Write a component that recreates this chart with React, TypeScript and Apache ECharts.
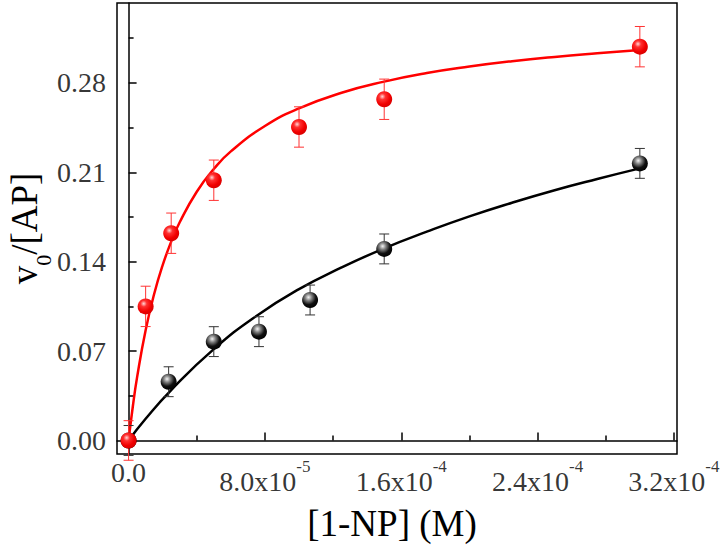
import React, { useEffect, useRef } from "react";
import * as echarts from "echarts";

// ---- data ----
const redX = [0, 1e-5, 2.5e-5, 5e-5, 1e-4, 1.5e-4, 3e-4];
const redY = [0, 0.105, 0.1623, 0.2038, 0.2455, 0.2672, 0.3084];
const redErr = [0.0155, 0.0158, 0.0158, 0.0158, 0.0158, 0.0158, 0.0158];

const blackX = [0, 2.35e-5, 5e-5, 7.65e-5, 1.065e-4, 1.5e-4, 3e-4];
const blackY = [0, 0.046, 0.0774, 0.0852, 0.11, 0.15, 0.217];
const blackErr = [0.0117, 0.0117, 0.0117, 0.0117, 0.0117, 0.0117, 0.0117];

// fitted curves
const redFitX = [0, 2.5e-6, 5e-6, 1e-5, 1.5e-5, 2e-5, 2.5e-5, 3e-5, 4e-5, 5e-5, 6e-5, 8e-5, 1e-4, 1.25e-4, 1.5e-4, 1.75e-4, 2e-4, 2.25e-4, 2.5e-4, 2.75e-4, 3e-4];
const redFitY = [0, 0.0268, 0.0496, 0.0863, 0.1147, 0.1373, 0.1557, 0.1709, 0.1948, 0.2126, 0.2264, 0.2463, 0.2601, 0.2723, 0.281, 0.2877, 0.2928, 0.297, 0.3004, 0.3032, 0.3057];

const blackFitX = [0, 1e-5, 2.5e-5, 5e-5, 7.5e-5, 1e-4, 1.25e-4, 1.5e-4, 1.75e-4, 2e-4, 2.25e-4, 2.5e-4, 2.75e-4, 3e-4];
const blackFitY = [0, 0.017, 0.0395, 0.0715, 0.0975, 0.1185, 0.1355, 0.1505, 0.1635, 0.1755, 0.1862, 0.196, 0.2048, 0.2131];

// axis ticks and labels
const xTicks = [0, 8e-5, 1.6e-4, 2.4e-4, 3.2e-4];
const xMinorTicks = [4e-5, 1.2e-4, 2e-4, 2.8e-4];
const xTickMant = ["0.0", "8.0x10", "1.6x10", "2.4x10", "3.2x10"];
const xTickExp = ["", "-5", "-4", "-4", "-4"];

const yTicks = [0, 0.07, 0.14, 0.21, 0.28];
const yMinorTicks = [0.035, 0.105, 0.175, 0.245, 0.315];
const yTickLabels = ["0.00", "0.07", "0.14", "0.21", "0.28"];

const xName = "[1-NP] (M)";
const yNameMain = "v";
const yNameSub = "0";
const yNameRest = "/[AP]";

const FONT = "Liberation Serif";

const X_MIN = -6.8e-6;
const X_MAX = 3.218e-4;
const Y_MIN = -0.0106;
const Y_MAX = 0.3426;

function zip(a: number[], b: number[]) {
  return a.map((v, i) => [v, b[i]]);
}
function zip3(a: number[], b: number[], c: number[]) {
  return a.map((v, i) => [v, b[i], c[i]]);
}

export default function App() {
  const ref = useRef<HTMLDivElement>(null);

  useEffect(() => {
    const chart = echarts.init(ref.current as HTMLDivElement, null, { renderer: "svg" });

    const errRender = (color: string) => (params: any, api: any) => {
      const x = api.value(0);
      const y = api.value(1);
      const e = api.value(2);
      const top = api.coord([x, y + e]);
      const bot = api.coord([x, y - e]);
      const hw = 5;
      const style = { stroke: color, lineWidth: 1, fill: null };
      return {
        type: "group",
        children: [
          { type: "line", shape: { x1: top[0], y1: top[1], x2: bot[0], y2: bot[1] }, style },
          { type: "line", shape: { x1: top[0] - hw, y1: top[1], x2: top[0] + hw, y2: top[1] }, style },
          { type: "line", shape: { x1: bot[0] - hw, y1: bot[1], x2: bot[0] + hw, y2: bot[1] }, style },
        ],
      };
    };

    const redBall = new echarts.graphic.RadialGradient(0.38, 0.33, 0.7, [
      { offset: 0, color: "#ffd6d6" },
      { offset: 0.28, color: "#ff3030" },
      { offset: 0.7, color: "#f00000" },
      { offset: 1, color: "#d80000" },
    ]);
    const blackBall = new echarts.graphic.RadialGradient(0.4, 0.33, 0.7, [
      { offset: 0, color: "#f4f4f4" },
      { offset: 0.3, color: "#808080" },
      { offset: 0.65, color: "#101010" },
      { offset: 1, color: "#000000" },
    ]);

    const tickAxisBase = {
      type: "value",
      splitLine: { show: false },
      axisLabel: { show: false },
    };

    const option: any = {
      animation: false,
      backgroundColor: "#ffffff",
      textStyle: { fontFamily: FONT, color: "#000" },
      grid: {
        left: 117,
        top: 3,
        right: 47,
        bottom: 91,
        show: true,
        borderColor: "#000",
        borderWidth: 1.5,
        backgroundColor: "transparent",
        containLabel: false,
        outerBoundsMode: "none",
      },
      xAxis: [
        {
          ...tickAxisBase,
          position: "bottom",
          min: X_MIN,
          max: X_MAX,
          axisLine: { show: true, lineStyle: { color: "#000", width: 1.5 } },
          axisTick: {
            show: true,
            inside: true,
            length: 8,
            customValues: xTicks,
            lineStyle: { color: "#000", width: 1.5 },
          },
          name: xName,
          nameLocation: "middle",
          nameGap: 51,
          nameTextStyle: { fontFamily: FONT, fontSize: 37, color: "#000", padding: [0, 10, 0, 0] },
        },
        {
          ...tickAxisBase,
          position: "bottom",
          min: X_MIN,
          max: X_MAX,
          axisLine: { show: false },
          axisTick: {
            show: true,
            inside: true,
            length: 5,
            customValues: xMinorTicks,
            lineStyle: { color: "#000", width: 1.5 },
          },
        },
      ],
      yAxis: [
        {
          ...tickAxisBase,
          position: "left",
          min: Y_MIN,
          max: Y_MAX,
          axisLine: { show: true, lineStyle: { color: "#000", width: 1.5 } },
          axisTick: {
            show: true,
            inside: true,
            length: 8,
            customValues: yTicks,
            lineStyle: { color: "#000", width: 1.5 },
          },
          name: `{v|${yNameMain}}{s|${yNameSub}}{t|${yNameRest}}`,
          nameLocation: "middle",
          nameRotate: 90,
          nameGap: 63,
          nameTextStyle: {
            fontFamily: FONT,
            fontSize: 37,
            color: "#000",
            rich: {
              v: { fontFamily: FONT, fontSize: 37, color: "#000", lineHeight: 37, verticalAlign: "top" },
              t: { fontFamily: FONT, fontSize: 37, color: "#000", lineHeight: 37, verticalAlign: "top" },
              s: { fontFamily: FONT, fontSize: 22, color: "#000", lineHeight: 48, verticalAlign: "bottom" },
            },
          },
        },
        {
          ...tickAxisBase,
          position: "left",
          min: Y_MIN,
          max: Y_MAX,
          axisLine: { show: false },
          axisTick: {
            show: true,
            inside: true,
            length: 5,
            customValues: yMinorTicks,
            lineStyle: { color: "#000", width: 1.5 },
          },
        },
      ],
      series: [
        {
          type: "line",
          name: "black fit",
          data: zip(blackFitX, blackFitY),
          smooth: true,
          showSymbol: false,
          symbol: "none",
          lineStyle: { color: "#000", width: 2.5 },
          z: 2,
        },
        {
          type: "line",
          name: "red fit",
          data: zip(redFitX, redFitY),
          smooth: true,
          showSymbol: false,
          symbol: "none",
          lineStyle: { color: "#ff0000", width: 2.5 },
          z: 2,
        },
        {
          type: "custom",
          name: "black err",
          renderItem: errRender("#333333"),
          data: zip3(blackX, blackY, blackErr),
          encode: { x: 0, y: 1 },
          z: 3,
        },
        {
          type: "custom",
          name: "red err",
          renderItem: errRender("#ff3333"),
          data: zip3(redX, redY, redErr),
          encode: { x: 0, y: 1 },
          z: 3,
        },
        {
          type: "scatter",
          name: "black",
          data: zip(blackX, blackY),
          symbol: "circle",
          symbolSize: 16,
          itemStyle: { color: blackBall, opacity: 1 },
          z: 4,
        },
        {
          type: "scatter",
          name: "red",
          data: zip(redX, redY),
          symbol: "circle",
          symbolSize: 16,
          itemStyle: { color: redBall, opacity: 1 },
          z: 5,
        },
        // x tick labels, placed at the axis through the library's scale
        {
          type: "scatter",
          name: "xTickLabels",
          data: xTicks.map((t) => [t, Y_MIN]),
          symbol: "circle",
          symbolSize: 0,
          itemStyle: { color: "transparent" },
          silent: true,
          clip: false,
          z: 10,
          label: {
            show: true,
            position: "bottom",
            distance: 4,
            color: "#000",
            fontFamily: FONT,
            fontSize: 28,
            formatter: (p: any) => {
              const i = p.dataIndex;
              return xTickExp[i]
                ? `{m|${xTickMant[i]}}{s|${xTickExp[i]}}`
                : `{m|${xTickMant[i]}}`;
            },
            rich: {
              m: { fontFamily: FONT, fontSize: 28, color: "#000", lineHeight: 28, verticalAlign: "bottom" },
              s: { fontFamily: FONT, fontSize: 17, color: "#000", lineHeight: 37, verticalAlign: "top" },
            },
          },
        },
        // y tick labels
        {
          type: "scatter",
          name: "yTickLabels",
          data: yTicks.map((t) => [X_MIN, t]),
          symbol: "circle",
          symbolSize: 0,
          itemStyle: { color: "transparent" },
          silent: true,
          clip: false,
          z: 10,
          label: {
            show: true,
            position: "left",
            distance: 11,
            color: "#000",
            fontFamily: FONT,
            fontSize: 28,
            formatter: (p: any) => yTickLabels[p.dataIndex],
          },
        },
      ],
    };

    chart.setOption(option);
    return () => {
      chart.dispose();
    };
  }, []);

  return (
    <div
      ref={ref}
      style={{ position: "fixed", left: 0, top: 0, width: 724, height: 545 }}
    />
  );
}
